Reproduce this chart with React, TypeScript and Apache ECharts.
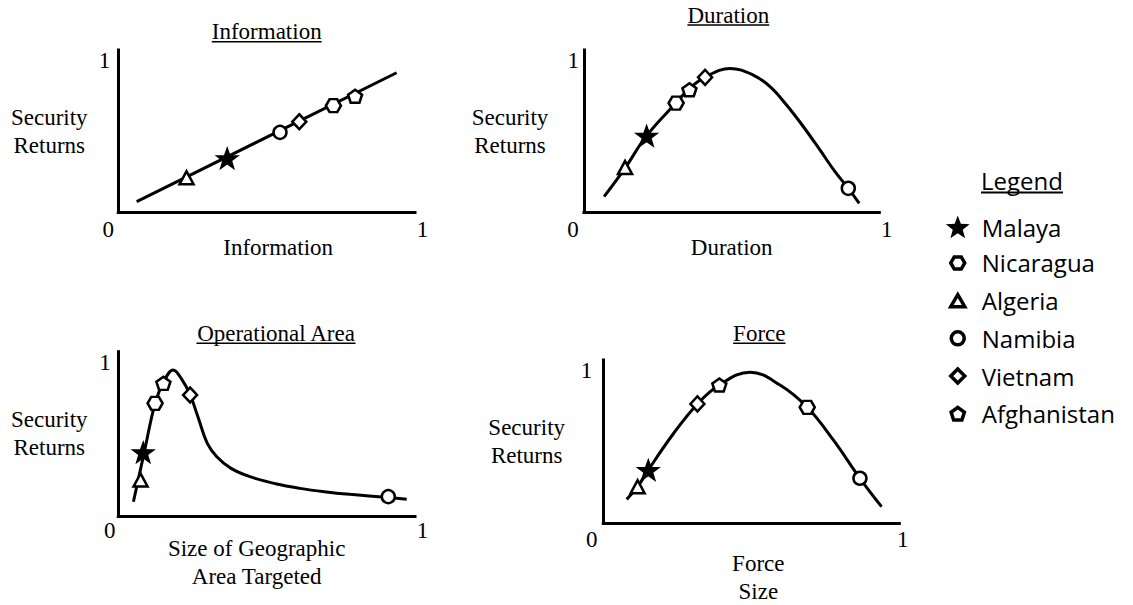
import React, { useEffect, useRef } from 'react';
import * as echarts from 'echarts';

// ---------- DATA ----------
const countries = ['Malaya', 'Nicaragua', 'Algeria', 'Namibia', 'Vietnam', 'Afghanistan'];

const panelTitles = ['Information', 'Duration', 'Operational Area', 'Force'];
const xAxisNames = ['Information', 'Duration', 'Size of Geographic\nArea Targeted', 'Force\nSize'];
const yAxisName = 'Security\nReturns';
const xTickLabels = ['0', '1'];
const yTickLabel = '1';
const legendTitle = 'Legend';

// curves (x, y)
const informationCurve = [[0.062, 0.07], [0.938, 0.92]];
const durationCurve = [
  [0.068, 0.103], [0.139, 0.291], [0.212, 0.505], [0.312, 0.722], [0.357, 0.815], [0.41, 0.891],
  [0.494, 0.948], [0.573, 0.905], [0.63, 0.828], [0.686, 0.707], [0.743, 0.564], [0.799, 0.411],
  [0.85, 0.268], [0.895, 0.158], [0.932, 0.059],
];
const areaCurve = [
  [0.051, 0.093], [0.088, 0.42], [0.124, 0.734], [0.152, 0.87], [0.185, 0.951], [0.214, 0.89],
  [0.242, 0.79], [0.27, 0.636], [0.3, 0.473], [0.332, 0.386], [0.38, 0.31], [0.444, 0.256],
  [0.53, 0.21], [0.612, 0.18], [0.7, 0.157], [0.781, 0.141], [0.91, 0.12], [0.972, 0.109],
];
const forceCurve = [
  [0.079, 0.157], [0.116, 0.24], [0.152, 0.349], [0.236, 0.585], [0.318, 0.782], [0.392, 0.906],
  [0.496, 0.99], [0.597, 0.906], [0.689, 0.76], [0.777, 0.546], [0.867, 0.295], [0.94, 0.109],
];

// country points, in the order of `countries`
const informationX = [0.367, 0.725, 0.23, 0.545, 0.61, 0.798];
const informationY = [0.356, 0.703, 0.228, 0.527, 0.597, 0.765];
const durationX = [0.212, 0.312, 0.139, 0.895, 0.41, 0.357];
const durationY = [0.504, 0.72, 0.295, 0.158, 0.89, 0.808];
const areaX = [0.084, 0.124, 0.075, 0.91, 0.242, 0.152];
const areaY = [0.415, 0.734, 0.234, 0.126, 0.788, 0.864];
const forceX = [0.152, 0.689, 0.116, 0.867, 0.318, 0.392];
const forceY = [0.349, 0.76, 0.24, 0.295, 0.782, 0.906];

const curves = [informationCurve, durationCurve, areaCurve, forceCurve];
const pointsX = [informationX, durationX, areaX, forceX];
const pointsY = [informationY, durationY, areaY, forceY];

// ---------- LAYOUT / STYLE ----------
const SERIF = 'Liberation Serif';
const SANS = 'Open Sans';
const FS = 23;
const LEGEND_FS = 24;

const layouts = [
  { left: 118.3, top: 50, width: 296.7, height: 162.3, yLabelMargin: 8, xLabelMargin: 6, zeroPad: 20, onePad: 15, yNameGap: 69, yNamePad: [0, 0, 0, 0], xNameGap: 34.7, xNamePad: [0, 0, 0, 23], title: [266.7, 31.7] },
  { left: 584, top: 50, width: 295.3, height: 162.3, yLabelMargin: 5, xLabelMargin: 6, zeroPad: 22, onePad: 15, yNameGap: 74, yNamePad: [0, 0, 0, 0], xNameGap: 34.7, xNamePad: [0, 0, 0, 0], title: [728.3, 15] },
  { left: 118.3, top: 351.7, width: 296.7, height: 164.3, yLabelMargin: 7.5, xLabelMargin: 3, zeroPad: 17, onePad: 15, yNameGap: 69, yNamePad: [0, 0, 0, 0], xNameGap: 46.2, xNamePad: [0, 20, 0, 0], title: [276, 333.3] },
  { left: 603.3, top: 360, width: 296, height: 163.3, yLabelMargin: 11, xLabelMargin: 5, zeroPad: 23, onePad: 7, yNameGap: 76.6, yNamePad: [12, 0, 0, 0], xNameGap: 54.2, xNamePad: [0, 0, 0, 14], title: [759.3, 333.3] },
];

function polyPath(pts: number[][]) {
  return 'M' + pts.map((p) => p[0].toFixed(3) + ' ' + p[1].toFixed(3)).join(' L') + ' Z';
}
function regularPts(cx: number, cy: number, R: number, n: number, startDeg: number) {
  const pts: number[][] = [];
  for (let k = 0; k < n; k++) {
    const a = ((startDeg + (360 / n) * k) * Math.PI) / 180;
    pts.push([cx + R * Math.cos(a), cy + R * Math.sin(a)]);
  }
  return pts;
}
function starPts(cx: number, cy: number, R: number, ratio: number) {
  const pts: number[][] = [];
  for (let k = 0; k < 10; k++) {
    const a = ((-90 + 36 * k) * Math.PI) / 180;
    const r = k % 2 === 0 ? R : R * ratio;
    pts.push([cx + r * Math.cos(a), cy + r * Math.sin(a)]);
  }
  return pts;
}

const seriesSymbols: Record<string, string> = {
  Malaya: 'path://' + polyPath(starPts(10, 10, 10, 0.4)),
  Nicaragua: 'path://' + polyPath(regularPts(10, 10, 10, 6, 0)),
  Algeria: 'triangle',
  Namibia: 'circle',
  Vietnam: 'diamond',
  Afghanistan: 'path://' + polyPath(regularPts(10, 10, 10, 5, -90)),
};
const seriesSizes: Record<string, any> = {
  Malaya: [21, 20],
  Nicaragua: [15, 13],
  Algeria: [14, 13],
  Namibia: 13,
  Vietnam: [14, 15],
  Afghanistan: [14, 13],
};
const seriesFill: Record<string, string> = {
  Malaya: '#000', Nicaragua: '#fff', Algeria: '#fff', Namibia: '#fff', Vietnam: '#fff', Afghanistan: '#fff',
};
const seriesBorder: Record<string, number> = {
  Malaya: 1.5, Nicaragua: 2.5, Algeria: 2.5, Namibia: 2.5, Vietnam: 2.5, Afghanistan: 2.5,
};

const ANCHOR = 'M0 0 M24 24 ';
const legendIcons: Record<string, string> = {
  Malaya: 'path://' + ANCHOR + polyPath(starPts(12, 13.1, 12.5, 0.42)),
  Nicaragua: 'path://' + ANCHOR + polyPath(regularPts(12, 12, 7, 6, 0)),
  Algeria: 'path://' + ANCHOR + polyPath([[12, 6], [19, 18], [5, 18]]),
  Namibia: 'path://' + ANCHOR + 'M5.5 12 A6.5 6.5 0 1 0 18.5 12 A6.5 6.5 0 1 0 5.5 12 Z',
  Vietnam: 'path://' + ANCHOR + polyPath([[12, 5], [19, 12], [12, 19], [5, 12]]),
  Afghanistan: 'path://' + ANCHOR + polyPath(regularPts(12, 12.7, 7, 5, -90)),
};

function measure(text: string, font: string) {
  const c = document.createElement('canvas');
  const ctx = c.getContext('2d');
  if (!ctx) return text.length * 10;
  ctx.font = font;
  return ctx.measureText(text).width;
}

export default function App() {
  const ref = useRef<HTMLDivElement>(null);

  useEffect(() => {
    if (!ref.current) return;
    const chart = echarts.init(ref.current, undefined, { renderer: 'svg' });

    const serifStyle = { fontFamily: SERIF, fontSize: FS, color: '#000' };

    const grid = layouts.map((L) => ({
      left: L.left, top: L.top, width: L.width, height: L.height,
      containLabel: false, outerBoundsMode: 'none',
    }));

    const xAxis = layouts.map((L, i) => ({
      type: 'value', gridIndex: i, min: 0, max: 1, interval: 1,
      axisLine: { show: true, onZero: false, lineStyle: { color: '#000', width: 3, cap: 'square' } },
      axisTick: { show: false }, splitLine: { show: false },
      axisLabel: {
        margin: L.xLabelMargin, showMinLabel: true, showMaxLabel: true, hideOverlap: false,
        formatter: (v: number) => (Math.abs(v) < 1e-9 ? '{z|' + xTickLabels[0] + '}' : Math.abs(v - 1) < 1e-9 ? '{o|' + xTickLabels[1] + '}' : ''),
        rich: {
          z: { ...serifStyle, padding: [0, L.zeroPad, 0, 0] },
          o: { ...serifStyle, padding: [0, 0, 0, L.onePad] },
        },
      },
      name: xAxisNames[i], nameLocation: 'middle', nameGap: L.xNameGap, nameMoveOverlap: false,
      nameTextStyle: { ...serifStyle, lineHeight: 28, align: 'center', verticalAlign: 'middle', padding: L.xNamePad },
    }));

    const yAxis = layouts.map((L, i) => ({
      type: 'value', gridIndex: i, min: 0, max: 1.07, interval: 1,
      axisLine: { show: true, onZero: false, lineStyle: { color: '#000', width: 3, cap: 'square' } },
      axisTick: { show: false }, splitLine: { show: false },
      axisLabel: {
        ...serifStyle, margin: L.yLabelMargin, showMinLabel: true, showMaxLabel: true,
        formatter: (v: number) => (Math.abs(v - 1) < 1e-9 ? yTickLabel : ''),
      },
      name: yAxisName, nameLocation: 'middle', nameGap: L.yNameGap, nameRotate: 0, nameMoveOverlap: false,
      nameTextStyle: { ...serifStyle, lineHeight: 28, align: 'center', verticalAlign: 'middle', padding: L.yNamePad },
    }));

    const series: any[] = [];
    curves.forEach((curve, i) => {
      series.push({
        type: 'line', xAxisIndex: i, yAxisIndex: i, data: curve, smooth: 0.4,
        showSymbol: false, symbol: 'none', silent: true, z: 2,
        lineStyle: { color: '#000', width: 3, opacity: 1 },
      });
      countries.forEach((c, k) => {
        series.push({
          type: 'scatter', name: c, xAxisIndex: i, yAxisIndex: i,
          data: [[pointsX[i][k], pointsY[i][k]]],
          symbol: seriesSymbols[c], symbolSize: seriesSizes[c], silent: true, z: 3,
          itemStyle: { color: seriesFill[c], borderColor: '#000', borderWidth: seriesBorder[c], opacity: 1 },
          emphasis: { disabled: true },
        });
      });
    });

    const graphic: any[] = [];
    const serifFont = `${FS}px "${SERIF}"`;
    layouts.forEach((L, i) => {
      const w = measure(panelTitles[i], serifFont);
      graphic.push({
        type: 'text', x: L.title[0], y: L.title[1], silent: true,
        style: { text: panelTitles[i], font: serifFont, fill: '#000', align: 'center', verticalAlign: 'middle' },
      });
      graphic.push({
        type: 'line', silent: true,
        shape: { x1: L.title[0] - w / 2, y1: L.title[1] + 10, x2: L.title[0] + w / 2, y2: L.title[1] + 10 },
        style: { stroke: '#000', lineWidth: 1.5 },
      });
    });
    const sansFont = `${LEGEND_FS}px "${SANS}"`;
    const lw = measure(legendTitle, sansFont);
    graphic.push({
      type: 'text', x: 1022, y: 180, silent: true,
      style: { text: legendTitle, font: sansFont, fill: '#000', align: 'center', verticalAlign: 'middle' },
    });
    graphic.push({
      type: 'line', silent: true,
      shape: { x1: 1022 - lw / 2, y1: 192.5, x2: 1022 + lw / 2, y2: 192.5 },
      style: { stroke: '#000', lineWidth: 2 },
    });

    chart.setOption({
      animation: false,
      backgroundColor: '#fff',
      textStyle: { fontFamily: SERIF, color: '#000' },
      grid, xAxis, yAxis, series, graphic,
      legend: {
        orient: 'vertical', left: 944, top: 215, padding: 0,
        itemWidth: 24, itemHeight: 24, itemGap: 10.2,
        selectedMode: false,
        textStyle: { fontFamily: SANS, fontSize: LEGEND_FS, color: '#000', padding: [0, 0, 0, 7] },
        data: countries.map((c) => ({
          name: c,
          icon: legendIcons[c],
          itemStyle: c === 'Malaya'
            ? { color: '#000', borderColor: '#000', borderWidth: 0, opacity: 1 }
            : { color: '#fff', borderColor: '#000', borderWidth: 3.5, opacity: 1 },
        })),
      },
    });

    return () => chart.dispose();
  }, []);

  return <div ref={ref} style={{ position: 'absolute', left: 0, top: 0, width: 1133, height: 605 }} />;
}
